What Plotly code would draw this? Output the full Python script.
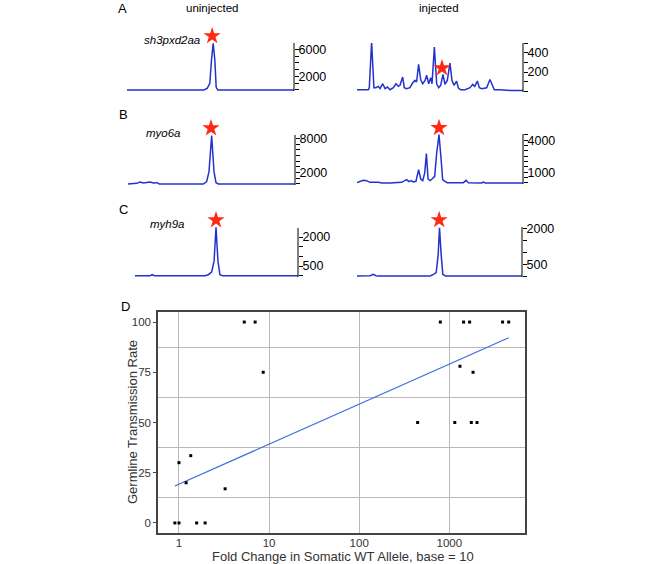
import plotly.graph_objects as go

W, H = 653, 564

# ---------------- data ----------------
# Panel A (sh3pxd2aa)
a_un_x = [0, 46, 48, 49.6, 50.6, 51.6, 52.6, 53.4, 54.4, 100]
a_un_y = [0, 0, 250, 990, 4450, 6900, 4450, 400, 0, 0]
a_un_star = (51.0, 8000)

a_in_x = [0, 6.8, 7.4, 8.8, 10.2, 11.4, 12.9, 13.9, 15.5, 16.9, 18.3, 19.9, 21.9, 23.5, 24.9,
          25.9, 27.5, 28.5, 29.9, 31.9, 33.5, 34.9, 35.9, 37.1, 38.4, 39.6, 41.0, 42.0, 43.2,
          44.4, 45.2, 46.6, 48.0, 49.2, 50.4, 51.8, 53.0, 54.4, 56.0, 57.2, 58.4, 60.0, 61.0,
          62.4, 65.1, 68.1, 69.7, 70.9, 72.5, 73.7, 75.1, 78.1, 80.1, 81.5, 82.7, 86.1, 92.2, 100]
a_in_y = [14, 14, 35, 515, 35, 35, 49, 25, 77, 25, 42, 14, 35, 77, 49,
          60, 147, 35, 25, 35, 84, 112, 95, 280, 119, 77, 112, 165, 77,
          140, 77, 462, 77, 35, 60, 175, 70, 112, 294, 112, 60, 105, 35,
          14, 14, 35, 70, 49, 105, 35, 25, 35, 122, 60, 14, 14, 7, 7]
a_in_star = (51.2, 241)

# Panel B (myo6a)
b_un_x = [0, 5.2, 7.2, 9.2, 13.2, 15.2, 17.2, 18.8, 45.1, 47.1, 48.5, 50.1, 51.5, 52.7, 54.1, 100]
b_un_y = [0, 118, 350, 176, 350, 176, 235, 0, 0, 410, 2170, 8500, 2170, 235, 0, 0]
b_un_star = (49.7, 9800)

b_in_x = [0, 1.8, 3.8, 5.8, 7.8, 12.9, 14.9, 19.9, 26.9, 29.9, 31.3, 32.5, 33.9, 35.5, 37.1,
          38.4, 39.6, 40.8, 41.8, 42.8, 44.0, 45.2, 46.8, 48.0, 49.4, 50.6, 51.6, 53.0, 54.4,
          64.1, 65.7, 67.1, 75.1, 76.1, 77.3, 100]
b_in_y = [31, 125, 250, 220, 62, 62, 0, 0, 62, 312, 125, 220, 94, 156, 1250,
          375, 220, 937, 2750, 375, 220, 375, 625, 2810, 4530, 2340, 312, 156, 31,
          31, 250, 31, 0, 94, 0, 0]
b_in_star = (49.4, 5160)

# Panel C (myh9a)
c_un_x = [0, 9.2, 10.6, 11.8, 42.9, 45.0, 47.0, 48.5, 49.7, 50.9, 52.1, 53.8, 100]
c_un_y = [0, 0, 52, 0, 0, 52, 190, 740, 2510, 740, 52, 0, 0]
c_un_star = (49.7, 2880)

c_in_x = [0, 7.9, 9.9, 11.5, 13.0, 44.3, 46.4, 48.0, 49.2, 50.0, 51.0, 52.0, 53.6, 100]
c_in_y = [0, 14, 70, 14, 0, 0, 70, 140, 910, 2030, 910, 70, 0, 0]
c_in_star = (49.8, 2360)

# Panel D: fold change vs germline transmission
fold_change = [0.9, 1.0, 1.57, 1.95, 1.0, 1.35, 1.2, 3.25, 5.3, 7.0, 8.6,
               795, 1440, 1680, 3900, 4560, 1313, 1834, 445, 1150, 1755, 2030]
transmission = [0, 0, 0, 0, 30, 33.5, 20, 17, 100, 100, 75,
                100, 100, 100, 100, 100, 78, 75, 50, 50, 50, 50]
fit_x = [0.9, 4560]
fit_y = [18.4, 92.2]

# ---------------- layout helpers (window pixel -> paper) ----------------
def xd(px0, px1):
    return [px0 / W, px1 / W]

def yd(top, bottom):
    return [1 - bottom / H, 1 - top / H]

TRACE_COLOR = "#2233cc"
STAR_COLOR = "#ff2a14"
FONT = "Liberation Sans, Arial, Helvetica, sans-serif"

panels = [
    # (x, y, star, xdom px, ydom px (axis top, bottom), yrange, tickstep, labels)
    (a_un_x, a_un_y, a_un_star, (127, 294), (43, 91), [-148, 6960], 1000, [2000, 6000]),
    (a_in_x, a_in_y, a_in_star, (357, 523), (43, 92), [-10, 505], 100, [200, 400]),
    (b_un_x, b_un_y, b_un_star, (128, 295), (135, 185), [-176, 8600], 1000, [2000, 8000]),
    (b_in_x, b_in_y, b_in_star, (357, 523), (134, 184), [-94, 4590], 500, [1000, 4000]),
    (c_un_x, c_un_y, c_un_star, (135, 298), (228, 277), [-67, 2470], 500, [500, 2000]),
    (c_in_x, c_in_y, c_in_star, (357, 522), (227, 277), [-42, 2063], 500, [500, 2000]),
]

fig = go.Figure()
layout = {}
shapes = []

for i, (x, y, star, xdp, ydp, yr, step, labels) in enumerate(panels, start=1):
    xa = "x" if i == 1 else f"x{i}"
    ya = "y" if i == 1 else f"y{i}"
    # extend the plotting range upward so the star marker fits, keeping the scale
    top_px, bot_px = ydp
    s = (bot_px - top_px) / (yr[1] - yr[0])
    y_hi = max(yr[1], star[1] + 8 / s)
    new_top_px = bot_px - (y_hi - yr[0]) * s

    fig.add_trace(go.Scatter(x=x, y=y, mode="lines", xaxis=xa, yaxis=ya,
                             line=dict(color=TRACE_COLOR, width=1.5),
                             hoverinfo="skip", showlegend=False))
    fig.add_trace(go.Scatter(x=[star[0]], y=[star[1]], mode="markers", xaxis=xa, yaxis=ya,
                             marker=dict(symbol="star", size=13, color=STAR_COLOR,
                                         line=dict(width=0)),
                             cliponaxis=False, hoverinfo="skip", showlegend=False))
    tv = list(range(0, int(yr[1]) + 1, step))
    tt = [str(v) if v in labels else "" for v in tv]
    kx = "xaxis" if i == 1 else f"xaxis{i}"
    ky = "yaxis" if i == 1 else f"yaxis{i}"
    layout[kx] = dict(domain=xd(*xdp), range=[0, 100], anchor=ya, visible=False)
    layout[ky] = dict(domain=yd(new_top_px, bot_px), range=[yr[0], y_hi], anchor=xa,
                      side="right", showline=False,
                      ticks="outside", ticklen=4, tickcolor="black", tickwidth=1,
                      ticklabelstandoff=-3,
                      tickvals=tv, ticktext=tt, showgrid=False, zeroline=False,
                      tickfont=dict(family=FONT, size=12.5, color="black"))
    # vertical axis spine covering only the tick range
    shapes.append(dict(type="line", xref=f"{xa} domain", yref=ya, x0=1, x1=1,
                       y0=yr[0], y1=yr[1], line=dict(color="black", width=1)))

# Panel D
fig.add_trace(go.Scatter(x=fit_x, y=fit_y, mode="lines", xaxis="x7", yaxis="y7",
                         line=dict(color="#3d6fdc", width=1.3),
                         hoverinfo="skip", showlegend=False))
fig.add_trace(go.Scatter(x=fold_change, y=transmission, mode="markers", xaxis="x7", yaxis="y7",
                         marker=dict(symbol="square", size=3, color="black"),
                         hoverinfo="skip", showlegend=False))

layout["xaxis7"] = dict(domain=xd(158, 525), type="log", range=[-0.233, 3.84], anchor="y7",
                        tickvals=[1, 10, 100, 1000], ticktext=["1", "10", "100", "1000"],
                        showgrid=True, gridcolor="#b8b8b8", gridwidth=1,
                        showline=True, mirror=True, linecolor="#444", linewidth=1.5,
                        ticks="", zeroline=False, ticklabelstandoff=-2,
                        tickfont=dict(family=FONT, size=11.5, color="#333"))
layout["yaxis7"] = dict(domain=yd(312, 533), range=[-5, 105], anchor="x7",
                        tickvals=[0, 25, 50, 75, 100],
                        showgrid=False, zeroline=False,
                        minor=dict(tick0=12.5, dtick=25, showgrid=True, gridcolor="#b8b8b8",
                                   gridwidth=1, ticks=""),
                        showline=True, mirror=True, linecolor="#444", linewidth=1.5,
                        ticks="outside", ticklen=3, tickcolor="#444",
                        tickfont=dict(family=FONT, size=11.5, color="#333"))

annotations = []
def txt(text, px, py, size=12, xanchor="left", italic=False, color="black", angle=0):
    t = f"<i>{text}</i>" if italic else text
    annotations.append(dict(text=t, x=px / W, y=1 - py / H,
                            xref="paper", yref="paper", textangle=angle,
                            xanchor=xanchor, yanchor="middle", showarrow=False,
                            font=dict(family=FONT, size=size, color=color)))

txt("A", 116, 8, 13)
txt("uninjected", 212, 8, 11.5, "center")
txt("injected", 439, 8, 11.5, "center")
txt("sh3pxd2aa", 142, 40, 11.5, italic=True)
txt("B", 117, 114, 13)
txt("myo6a", 144, 133, 11.5, italic=True)
txt("C", 117, 209, 13)
txt("myh9a", 148, 224, 11.5, italic=True)
txt("D", 119, 306, 13)
txt("Germline Transmission Rate", 132, 422, 13, "center", color="#333", angle=-90)
txt("Fold Change in Somatic WT Allele, base = 10", 343, 556, 13, "center", color="#333")

fig.update_layout(**layout)
fig.update_layout(width=W, height=H, margin=dict(l=0, r=0, t=0, b=0),
                  plot_bgcolor="white", paper_bgcolor="white",
                  annotations=annotations, shapes=shapes, showlegend=False)

# remove the default 8px page margin so the 653x564 figure fills the window exactly
fig.write_html("out.html", config={"displayModeBar": False},
               post_script="document.body.style.margin='0px';")
